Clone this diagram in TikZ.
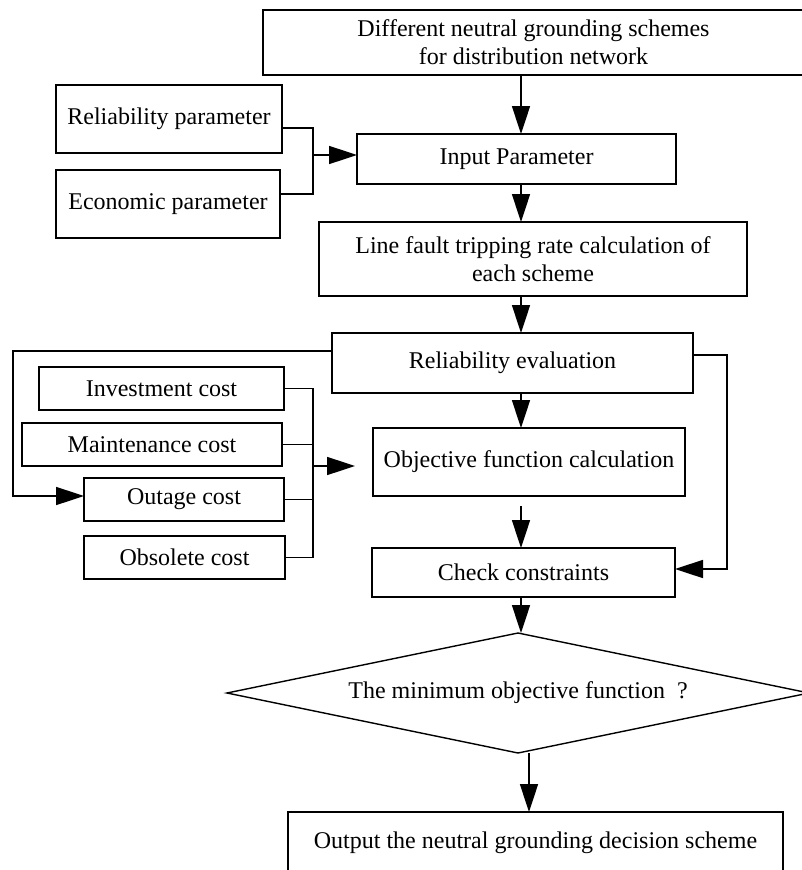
\documentclass[tikz,border=0pt]{standalone}
\usepackage{fontspec}
\setmainfont{Liberation Serif}
\usetikzlibrary{positioning, shapes.geometric, arrows.meta}

\begin{document}
\begin{tikzpicture}[
    x=1pt, y=-1pt,
    box/.style={
        draw,
        line width=1.6pt,
        align=center,
        inner sep=2pt,
        outer sep=0pt,
        font=\fontsize{24}{28}\selectfont
    },
    procbox/.style={box},
    parambox/.style={box, minimum height=68pt},
    costbox/.style={box, minimum height=43pt},
    decision/.style={box, diamond, aspect=4.8, inner sep=0pt, line width=1.4pt,
        minimum width=582pt, minimum height=120pt},
    line/.style={line width=1.6pt},
    arrow/.style={line, -{Triangle[length=28pt, width=18pt]}}
]
\useasboundingbox (0,0) rectangle (802,870);
% main column
\node[procbox, minimum width=541pt, minimum height=65pt] (schemes) at (533.5,42.5)
    {Different neutral grounding schemes\\for distribution network};
\node[procbox, minimum width=319pt, minimum height=50pt] (input) [below=59pt of schemes, xshift=-17pt] {Input Parameter};
\node[procbox, minimum width=428pt, minimum height=74pt] (tripping) [below=38pt of input, xshift=16.5pt]
    {Line fault tripping rate calculation of\\each scheme};
\node[procbox, minimum width=361pt, minimum height=60pt] (releval) [below=37pt of tripping, xshift=-20.5pt] {Reliability evaluation};
\node[procbox, minimum width=312pt, minimum height=68pt] (objfun) [below=35pt of releval, xshift=16.5pt] {Objective function calculation};
\node[procbox, minimum width=303pt, minimum height=49pt] (check) [below=52pt of objfun, xshift=-5.5pt] {Check constraints};
\node[decision] (minobj) [below=36pt of check, xshift=-5.5pt] {The minimum objective function\enspace?};
\node[procbox, minimum width=495pt, minimum height=62pt] (output) [below=59pt of minobj, xshift=17.5pt]
    {Output the neutral grounding decision scheme};
% parameters
\node[parambox, minimum width=226pt] (relpar) at (169,119) {Reliability parameter};
\node[parambox, minimum width=224pt] (ecopar) [below=17pt of relpar, xshift=-1pt] {Economic parameter};
% costs
\node[costbox, minimum width=245pt] (invest) at (161.5,388.5) {Investment cost};
\node[costbox, minimum width=260pt] (maint) [below=13pt of invest, xshift=-9.5pt] {Maintenance cost};
\node[costbox, minimum width=200pt] (outage) [below=12pt of maint, xshift=32pt] {Outage cost};
\node[costbox, minimum width=201pt] (obsolete) [below=15pt of outage, xshift=0.5pt] {Obsolete cost};
% helper points
\coordinate (axis) at (521,0);
\coordinate (outaxis) at (529,0);
\coordinate (pbus) at (313,155);
\coordinate (cbus) at (313,466);
\coordinate (lfb) at (13,496);
\coordinate (rfb) at (727,569);
% connectors
\draw[arrow] (schemes.south -| axis) -- (input.north -| axis);
\draw[arrow] (input.south -| axis) -- (tripping.north -| axis);
\draw[arrow] (tripping.south -| axis) -- (releval.north -| axis);
\draw[arrow] (releval.south -| axis) -- (objfun.north -| axis);
\draw[arrow] ([yshift=-10pt]objfun.south -| axis) -- (check.north -| axis);
\draw[arrow] (check.south -| axis) -- (minobj.north -| axis);
\draw[arrow] (minobj.south -| outaxis) -- (output.north -| outaxis);
\draw[line] ([yshift=-9pt]relpar.east) -| (pbus) |- ([yshift=10pt]ecopar.east);
\draw[arrow] (pbus) -- (pbus -| input.west);
\draw[line] (invest.east) -| (cbus) |- (obsolete.east);
\draw[line] (maint.east) -- (maint.east -| cbus);
\draw[line] (outage.east) -- (outage.east -| cbus);
\draw[arrow, shorten >=18pt] (cbus) -- (cbus -| objfun.west);
\draw[arrow] ([yshift=12pt]releval.west) -| (lfb) -- (lfb -| outage.west);
\draw[arrow] ([yshift=8pt]releval.east) -| (rfb) -- (rfb -| check.east);
\end{tikzpicture}
\end{document}
